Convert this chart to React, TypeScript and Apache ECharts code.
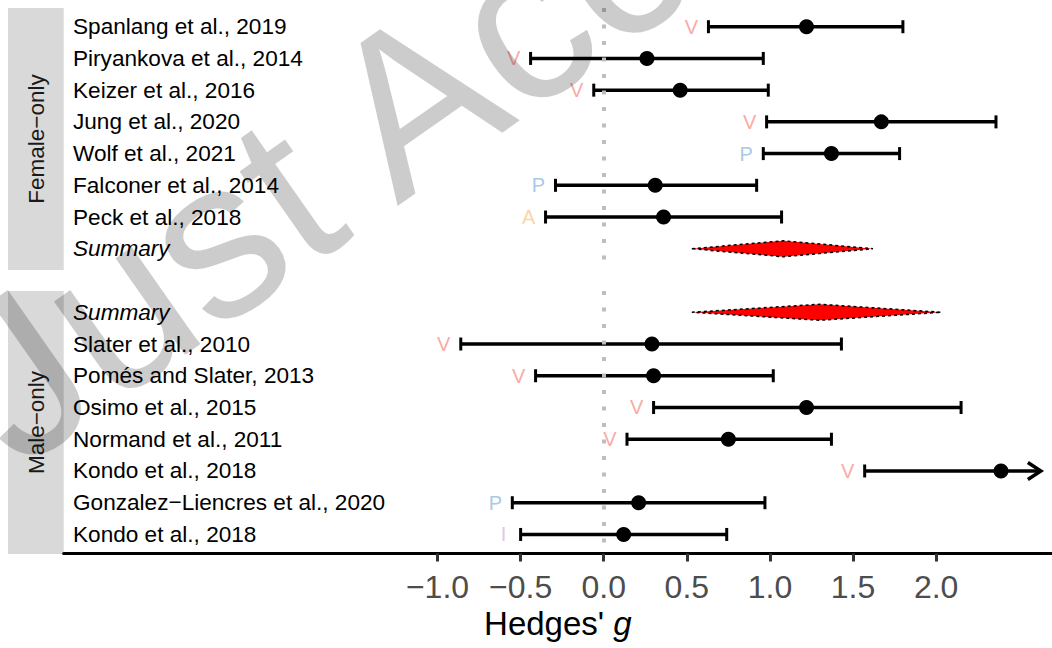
import React, { useEffect, useRef } from "react";
import * as echarts from "echarts";

// ---------- data ----------
const femaleStudies = [
  "Spanlang et al., 2019",
  "Piryankova et al., 2014",
  "Keizer et al., 2016",
  "Jung et al., 2020",
  "Wolf et al., 2021",
  "Falconer et al., 2014",
  "Peck et al., 2018",
  "Summary",
];
const femaleG = [1.22, 0.26, 0.46, 1.67, 1.37, 0.31, 0.36];
const femaleLower = [0.63, -0.44, -0.06, 0.98, 0.96, -0.29, -0.35];
const femaleUpper = [1.8, 0.96, 0.99, 2.36, 1.78, 0.92, 1.07];
const femaleType = ["V", "V", "V", "V", "P", "P", "A"];
const femaleSummary = [0.53, 1.08, 1.62]; // lower, estimate, upper

const maleStudies = [
  "Summary",
  "Slater et al., 2010",
  "Pomés and Slater, 2013",
  "Osimo et al., 2015",
  "Normand et al., 2011",
  "Kondo et al., 2018",
  "Gonzalez−Liencres et al., 2020",
  "Kondo et al., 2018",
];
const maleG = [0.29, 0.3, 1.22, 0.75, 2.39, 0.21, 0.12];
const maleLower = [-0.86, -0.41, 0.3, 0.14, 1.57, -0.55, -0.5];
const maleUpper = [1.43, 1.02, 2.15, 1.37, 2.63, 0.97, 0.74];
const maleType = ["V", "V", "V", "V", "V", "P", "I"];
const maleTruncated = [false, false, false, false, true, false, false];
const maleSummary = [0.53, 1.3, 2.03];

const xTicks = [-1, -0.5, 0, 0.5, 1, 1.5, 2];
const stripLabels = ["Female−only", "Male−only"];
const watermarkText = "Just Accepted";

// ---------- styling ----------
const FONT = "'Liberation Sans', Arial, Helvetica, sans-serif";
const X_MIN = -3.249;
const X_MAX = 2.697;
const typeColors: Record<string, string> = {
  V: "#F9ABA5",
  P: "#A9C9E8",
  A: "#FDD5A2",
  I: "#E0C8E8",
};

function errorBarRender(types: string[], truncated: boolean[]) {
  return (params: any, api: any) => {
    const lo = api.value(0);
    const hi = api.value(1);
    const row = api.value(2);
    const i = params.dataIndex;
    const pLo = api.coord([lo, row]);
    const pHi = api.coord([hi, row]);
    const y = pLo[1];
    const children: any[] = [
      {
        type: "line",
        shape: { x1: pLo[0], y1: y, x2: pHi[0], y2: y },
        style: { stroke: "#000", lineWidth: 3.5 },
      },
      {
        type: "line",
        shape: { x1: pLo[0], y1: y - 6.5, x2: pLo[0], y2: y + 6.5 },
        style: { stroke: "#000", lineWidth: 3 },
      },
    ];
    if (truncated[i]) {
      children.push({
        type: "polyline",
        shape: {
          points: [
            [pHi[0] - 13, y - 8.5],
            [pHi[0], y],
            [pHi[0] - 13, y + 8.5],
          ],
        },
        style: { stroke: "#000", fill: "none", lineWidth: 3.5 },
      });
    } else {
      children.push({
        type: "line",
        shape: { x1: pHi[0], y1: y - 6.5, x2: pHi[0], y2: y + 6.5 },
        style: { stroke: "#000", lineWidth: 3 },
      });
    }
    children.push({
      type: "text",
      x: pLo[0] - 17,
      y: y,
      style: {
        text: types[i],
        fill: typeColors[types[i]],
        fontSize: 20,
        fontFamily: FONT,
        align: "center",
        verticalAlign: "middle",
      },
    });
    return { type: "group", children };
  };
}

function diamondRender(params: any, api: any) {
  const lo = api.value(0);
  const est = api.value(1);
  const hi = api.value(2);
  const row = api.value(3);
  const a = api.coord([lo, row]);
  const b = api.coord([est, row]);
  const c = api.coord([hi, row]);
  const h = 8;
  return {
    type: "polygon",
    shape: {
      points: [
        [a[0], a[1]],
        [b[0], b[1] - h],
        [c[0], c[1]],
        [b[0], b[1] + h],
      ],
    },
    style: { fill: "#FF0000", stroke: "#000", lineWidth: 1.5, lineDash: [3, 3] },
  };
}

function yLabelFormatter(names: string[]) {
  return (v: number) => {
    const n = names[Math.round(v)];
    if (n === undefined) return "";
    return n === "Summary" ? "{it|Summary}" : n;
  };
}

function yAxisFor(gridIndex: number, names: string[], min: number, max: number) {
  return {
    type: "value",
    gridIndex,
    inverse: true,
    min,
    max,
    axisLine: { show: false },
    axisTick: { show: false },
    splitLine: { show: false },
    axisLabel: {
      customValues: [0, 1, 2, 3, 4, 5, 6, 7],
      inside: true,
      align: "left",
      margin: 9.3,
      color: "#000",
      fontSize: 22.6,
      fontFamily: FONT,
      formatter: yLabelFormatter(names),
      rich: {
        it: { fontStyle: "italic", fontSize: 22.6, color: "#000", fontFamily: FONT },
      },
    },
  };
}

const zeroLine = {
  silent: true,
  symbol: "none",
  label: { show: false },
  lineStyle: { type: [4, 12.5], color: "#BEBEBE", width: 4 },
  data: [{ xAxis: 0 }],
};

const pointStyle = { color: "#000", opacity: 1 };

export default function App() {
  const ref = useRef<HTMLDivElement>(null);

  useEffect(() => {
    if (!ref.current) return;
    const chart = echarts.init(ref.current, undefined, { renderer: "svg" });

    const option: any = {
      animation: false,
      backgroundColor: "#fff",
      textStyle: { fontFamily: FONT },
      grid: [
        { left: 63.7, right: 0, top: 8, height: 262 },
        { left: 63.7, right: 0, top: 291, height: 262.5 },
      ],
      xAxis: [
        { type: "value", gridIndex: 0, min: X_MIN, max: X_MAX, show: false },
        {
          type: "value",
          gridIndex: 1,
          min: X_MIN,
          max: X_MAX,
          splitLine: { show: false },
          axisLine: { show: true, onZero: false, lineStyle: { color: "#000", width: 3 } },
          axisTick: {
            show: true,
            customValues: xTicks,
            length: 8,
            lineStyle: { color: "#333", width: 3 },
          },
          axisLabel: {
            customValues: xTicks,
            formatter: (v: number) => v.toFixed(1).replace("-", "−"),
            color: "#4D4D4D",
            fontSize: 32,
            margin: 17,
            fontFamily: FONT,
          },
          name: "{n|Hedges' }{i|g}",
          nameLocation: "middle",
          nameGap: 53,
          nameTextStyle: {
            rich: {
              n: { fontSize: 33, color: "#000", fontFamily: FONT },
              i: { fontSize: 33, color: "#000", fontStyle: "italic", fontFamily: FONT },
            },
          },
        },
      ],
      yAxis: [
        yAxisFor(0, femaleStudies, -0.59, 7.67),
        yAxisFor(1, maleStudies, -0.67, 7.6),
      ],
      series: [
        // Female panel
        {
          type: "custom",
          xAxisIndex: 0,
          yAxisIndex: 0,
          renderItem: errorBarRender(femaleType, femaleType.map(() => false)),
          data: femaleLower.map((lo, i) => [lo, femaleUpper[i], i]),
          encode: { x: [0, 1], y: 2 },
          z: 3,
        },
        {
          type: "scatter",
          xAxisIndex: 0,
          yAxisIndex: 0,
          symbol: "circle",
          symbolSize: 15,
          itemStyle: pointStyle,
          data: femaleG.map((g, i) => [g, i]),
          markLine: zeroLine,
          z: 4,
        },
        {
          type: "custom",
          xAxisIndex: 0,
          yAxisIndex: 0,
          renderItem: diamondRender,
          data: [[femaleSummary[0], femaleSummary[1], femaleSummary[2], 7]],
          encode: { x: [0, 2], y: 3 },
          z: 3,
        },
        // Male panel
        {
          type: "custom",
          xAxisIndex: 1,
          yAxisIndex: 1,
          renderItem: errorBarRender(maleType, maleTruncated),
          data: maleLower.map((lo, i) => [lo, maleUpper[i], i + 1]),
          encode: { x: [0, 1], y: 2 },
          z: 3,
        },
        {
          type: "scatter",
          xAxisIndex: 1,
          yAxisIndex: 1,
          symbol: "circle",
          symbolSize: 15,
          itemStyle: pointStyle,
          data: maleG.map((g, i) => [g, i + 1]),
          markLine: zeroLine,
          z: 4,
        },
        {
          type: "custom",
          xAxisIndex: 1,
          yAxisIndex: 1,
          renderItem: diamondRender,
          data: [[maleSummary[0], maleSummary[1], maleSummary[2], 0]],
          encode: { x: [0, 2], y: 3 },
          z: 3,
        },
      ],
      graphic: [
        {
          type: "rect",
          shape: { x: 8, y: 8, width: 55.7, height: 262 },
          style: { fill: "#D9D9D9" },
          z: 0,
        },
        {
          type: "rect",
          shape: { x: 8, y: 291, width: 55.7, height: 263 },
          style: { fill: "#D9D9D9" },
          z: 0,
        },
        {
          type: "text",
          x: 36,
          y: 139,
          rotation: Math.PI / 2,
          style: {
            text: stripLabels[0],
            fontSize: 22.5,
            fill: "#1A1A1A",
            fontFamily: FONT,
            align: "center",
            verticalAlign: "middle",
          },
          z: 1,
        },
        {
          type: "text",
          x: 36,
          y: 422.5,
          rotation: Math.PI / 2,
          style: {
            text: stripLabels[1],
            fontSize: 22.5,
            fill: "#1A1A1A",
            fontFamily: FONT,
            align: "center",
            verticalAlign: "middle",
          },
          z: 1,
        },
        {
          type: "text",
          x: 38,
          y: 500,
          rotation: (35 * Math.PI) / 180,
          silent: true,
          style: {
            text: watermarkText,
            fontSize: 225,
            fill: "rgba(0,0,0,0.2)",
            fontFamily: FONT,
            align: "left",
            verticalAlign: "bottom",
          },
          z: 100,
        },
      ],
    };

    chart.setOption(option);
    return () => chart.dispose();
  }, []);

  return (
    <div
      ref={ref}
      style={{ position: "fixed", left: 0, top: 0, width: 1052, height: 648, background: "#fff" }}
    />
  );
}
